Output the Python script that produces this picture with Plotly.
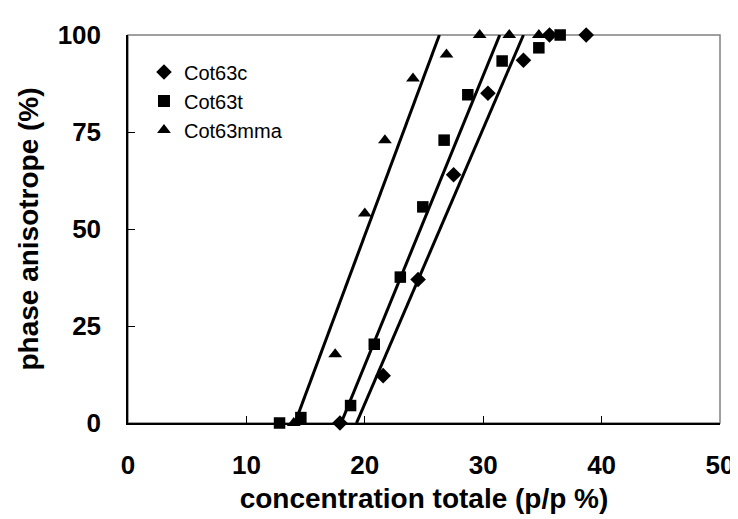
import plotly.graph_objects as go

# Data
c_x = [17.9, 21.55, 24.5, 27.5, 30.4, 33.4, 35.6, 38.7]
c_y = [0, 12.2, 37.0, 64.0, 85.0, 93.5, 100, 100]

t_x = [12.8, 14.6, 18.8, 20.8, 23.0, 24.9, 26.7, 28.7, 31.6, 34.7, 36.5]
t_y = [0, 1.4, 4.5, 20.3, 37.6, 55.7, 72.9, 84.6, 93.3, 96.7, 100]

mma_x = [14.0, 17.5, 20.0, 21.7, 24.07, 26.9, 29.7, 32.2, 34.7]
mma_y = [0, 17.7, 54.0, 72.9, 88.8, 95.0, 100, 100, 100]

# Fitted trend lines (endpoints read at 0 % and 100 %)
fit_y = [0, 100]
fit_c_x = [19.3, 33.4]
fit_t_x = [18.0, 31.4]
fit_mma_x = [14.1, 26.3]

x_ticks = [0, 10, 20, 30, 40, 50]
y_ticks = [0, 25, 50, 75, 100]

FONT = "Liberation Sans, Arial, sans-serif"

fig = go.Figure()

for fx in (fit_c_x, fit_t_x, fit_mma_x):
    fig.add_trace(go.Scatter(x=fx, y=fit_y, mode="lines",
                             line=dict(color="black", width=3),
                             showlegend=False, hoverinfo="skip"))

fig.add_trace(go.Scatter(x=c_x, y=c_y, mode="markers", name="Cot63c",
                         marker=dict(symbol="diamond", size=12, color="black"),
                         cliponaxis=False))
fig.add_trace(go.Scatter(x=t_x, y=t_y, mode="markers", name="Cot63t",
                         marker=dict(symbol="square", size=11.5, color="black"),
                         cliponaxis=False))
fig.add_trace(go.Scatter(x=mma_x, y=mma_y, mode="markers", name="Cot63mma",
                         marker=dict(symbol="triangle-up", size=12, color="black"),
                         cliponaxis=False))

fig.add_shape(type="rect", xref="paper", yref="paper", x0=0, y0=0, x1=1, y1=1,
              line=dict(color="#808080", width=1.5), layer="below")

fig.update_layout(
    width=738, height=519,
    margin=dict(l=120, r=17, t=23, b=104),
    plot_bgcolor="white", paper_bgcolor="white",
    font=dict(family=FONT, color="black"),
    legend=dict(x=0.027, y=0.955, xanchor="left", yanchor="top",
                bgcolor="rgba(0,0,0,0)", font=dict(size=20, family=FONT),
                itemsizing="constant"),
    xaxis=dict(range=[0, 50], tickvals=x_ticks, ticks="inside", ticklen=7,
               tickcolor="black", showgrid=False, zeroline=False,
               showline=True, linecolor="black", linewidth=1.5,
               ticklabelstandoff=18,
               tickfont=dict(size=26, family=FONT, weight="bold"),
               title=dict(text="<b>concentration totale (p/p %)</b>",
                          font=dict(size=28, family=FONT), standoff=9)),
    yaxis=dict(range=[0, 100], tickvals=y_ticks, ticks="inside", ticklen=7,
               tickcolor="black", showgrid=False, zeroline=False,
               showline=True, linecolor="black", linewidth=1.5,
               ticklabelstandoff=20,
               tickfont=dict(size=26, family=FONT, weight="bold"),
               title=dict(text="<b>phase anisotrope (%)</b>",
                          font=dict(size=28, family=FONT), standoff=11)),
)

fig.write_html("out.html")
